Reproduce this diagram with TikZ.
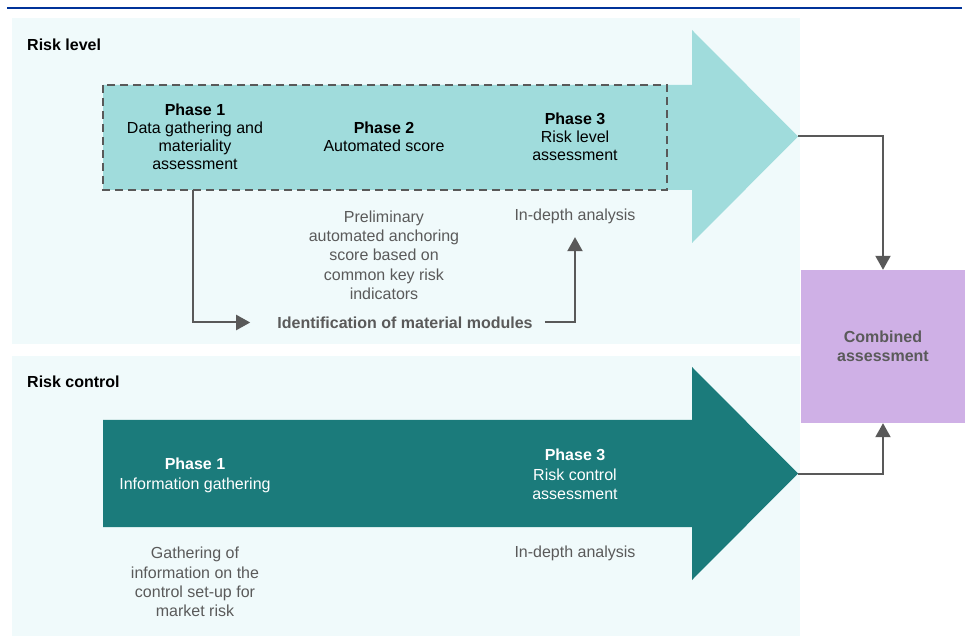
\documentclass[tikz,border=0pt]{standalone}
\usepackage{fontspec}
\setmainfont{Liberation Sans}
\usetikzlibrary{arrows.meta}
\definecolor{lightbg}{HTML}{F0FAFB}
\definecolor{lightarrow}{HTML}{A0DCDC}
\definecolor{darkarrow}{HTML}{1B7B7B}
\definecolor{combined}{HTML}{CFB0E6}
\definecolor{txtgray}{HTML}{5A5A5A}
\definecolor{linegray}{HTML}{595959}
\definecolor{topblue}{HTML}{003399}
\tikzset{
  phasetext/.style={align=center, inner sep=0pt, font=\fontsize{16}{18}\selectfont},
  desctext/.style={align=center, inner sep=0pt, text=txtgray, font=\fontsize{16}{19.3}\selectfont},
  paneltitle/.style={anchor=west, inner sep=0pt, font=\fontsize{16}{19}\selectfont\bfseries},
  conn/.style={draw=linegray, line width=2pt},
  connarrow/.style={conn, -{Triangle[length=14pt,width=15pt]}},
  panel/.style={fill=lightbg, draw=none},
}
\begin{document}
\begin{tikzpicture}[x=1pt,y=-1pt]
\useasboundingbox (0,0) rectangle (970,644);
% top rule
\draw[topblue, line width=2.2pt] (7,8.3) -- (962,8.3);
% panels
\fill[panel] (12,18) rectangle (800,344);
\fill[panel] (12,356) rectangle (800,636);
\node[paneltitle] (risklevel) at (27,45) {Risk level};
\node[paneltitle] (riskcontrol) at (27,382) {Risk control};
% light arrow
\fill[lightarrow] (103,85) -- (692,85) -- (692,30) -- (798,136.5) -- (692,243) -- (692,190) -- (103,190) -- cycle;
\coordinate (tipA) at (798,136.5);
\draw[linegray, line width=2.2pt, dash pattern=on 8pt off 5pt] (103,85) rectangle (667,190);
% dark arrow
\fill[darkarrow] (103,420) -- (692,420) -- (692,367) -- (798,473.5) -- (692,580) -- (692,527) -- (103,527) -- cycle;
\coordinate (tipB) at (798,473.5);
% phase texts top
\node[phasetext] (p1) at (195,136.5) {\textbf{Phase 1}\\Data gathering and\\materiality\\assessment};
\node[phasetext] (p2) at (384,137) {\textbf{Phase 2}\\Automated score};
\node[phasetext] (p3) at (575,137) {\textbf{Phase 3}\\Risk level\\assessment};
% phase texts bottom
\node[phasetext, text=white, font=\fontsize{16}{19.5}\selectfont] (q1) at (195,475.5) {\textbf{Phase 1}\\Information gathering};
\node[phasetext, text=white, font=\fontsize{16}{19.5}\selectfont] (q3) at (575,474.5) {\textbf{Phase 3}\\Risk control\\assessment};
% descriptions
\node[desctext] (d2) at (384,255) {Preliminary\\automated anchoring\\score based on\\common key risk\\indicators};
\node[desctext] (d3) at (575,216.5) {In-depth analysis};
\node[desctext] (e1) at (195,582) {Gathering of\\information on the\\control set-up for\\market risk};
\node[desctext] (e3) at (575,553.5) {In-depth analysis};
% identification
\node[inner sep=0pt, text=txtgray, font=\fontsize{16}{19}\selectfont\bfseries] (ident) at (405,322.5) {Identification of material modules};
\coordinate (p1bottom) at (193,190);
\draw[connarrow] (p1bottom) |- ([xshift=-27pt]ident.west);
\draw[connarrow] ([xshift=12pt]ident.east) -| ([yshift=-13pt]d3.south);
% combined
\node[fill=combined, minimum width=164pt, minimum height=153pt, inner sep=0pt, align=center, text=txtgray, font=\fontsize{16}{19}\selectfont\bfseries] (comb) at (883,346.5) {Combined\\assessment};
\draw[connarrow] (tipA) -| (comb.north);
\draw[connarrow] (tipB) -| (comb.south);
\end{tikzpicture}
\end{document}
